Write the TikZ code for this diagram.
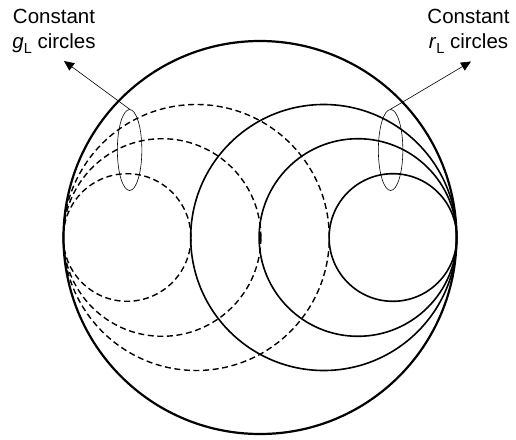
\documentclass[tikz,border=0pt]{standalone}
\usepackage{fontspec}
\setmainfont{Liberation Sans}
\usetikzlibrary{arrows.meta,shapes.geometric}
\newcommand{\subL}{\raisebox{-5pt}{\fontsize{14.5}{14.5}\selectfont L}}
\begin{document}
\begin{tikzpicture}[x=1pt,y=-1pt,
  outer/.style={line width=2.2pt},
  rcirc/.style={line width=1.6pt},
  gcirc/.style={line width=1.4pt,dash pattern=on 6pt off 3.6pt},
  loop/.style={draw,ellipse,line width=0.6pt,inner sep=0pt,minimum width=24.5pt,minimum height=81pt},
  pointer/.style={line width=0.6pt,-{Triangle[length=10pt,width=9pt]}},
  label/.style={align=center,font=\fontsize{20.5}{24.5}\selectfont,inner sep=0pt}]
\useasboundingbox (0,0) rectangle (516,439);
% outer boundary
\draw[outer] (260,237.5) circle[radius=196.5pt];
% constant r circles (solid)
\draw[rcirc] (323.7,237.5) circle[radius=133pt];
\draw[rcirc] (357.9,237.5) circle[radius=98.8pt];
\draw[rcirc] (392.9,237.5) circle[radius=63.8pt];
% constant g circles (dashed)
\draw[gcirc] (196.3,237.5) circle[radius=133pt];
\draw[gcirc] (162.1,237.5) circle[radius=98.8pt];
\draw[gcirc] (127.1,237.5) circle[radius=63.8pt];
% grouping ellipses
\node[loop] (gell) at (129.6,150) {};
\node[loop] (rell) at (390.6,150) {};
% arrow tips
\coordinate (gtip) at (64,61);
\coordinate (rtip) at (471,61.5);
\draw[pointer] (gell.north) -- (gtip);
\draw[pointer] (rell.north) -- (rtip);
% labels
\node[label,anchor=north] (glab) at (54,9) {Constant\\\textit{g}\subL{} circles};
\node[label,anchor=north] (rlab) at (468.5,9) {Constant\\\textit{r}\subL{} circles};
\end{tikzpicture}
\end{document}
